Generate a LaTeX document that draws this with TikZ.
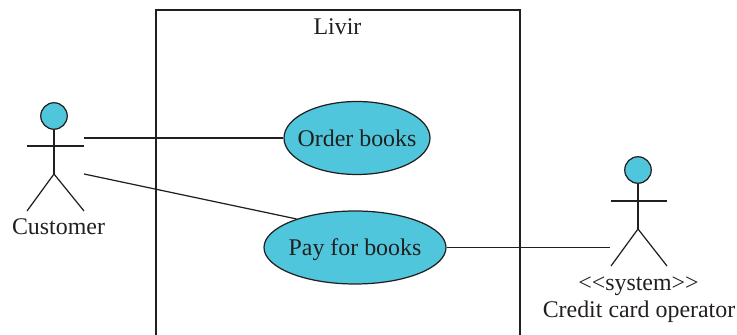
\documentclass[tikz,border=0pt]{standalone}
\usepackage{fontspec}
\setmainfont{Liberation Serif}
\usepackage{tikz}
\usetikzlibrary{shapes.geometric}
\definecolor{inkblack}{HTML}{231F20}
\definecolor{usecyan}{HTML}{4FC6DC}
\tikzset{
	every node/.style={text=inkblack, font=\fontsize{13.6}{16}\selectfont},
	usecase/.style={ellipse, draw=inkblack, line width=0.7pt, fill=usecyan, inner sep=0pt, text depth=0pt},
	head/.style={circle, draw=inkblack, line width=0.7pt, fill=usecyan, inner sep=0pt, minimum size=0.53cm},
	umlline/.style={draw=inkblack, line width=0.7pt},
}

\begin{document}
\begin{tikzpicture}
		\useasboundingbox (0,0) rectangle (14.74,6.7);
		\draw[umlline] (3.12,0) -- (3.12,6.5) -- (10.4,6.5) -- (10.4,0);
		\node (livir) at (6.75,6.16) {Livir};
		\node[usecase, minimum width=2.92cm, minimum height=1.46cm] (order) at (7.14,3.94) {\makebox[0pt]{Order books}};
		\node[usecase, minimum width=3.64cm, minimum height=1.46cm] (pay) at (7.1,1.75) {\makebox[0pt]{Pay for books}};
		\node[head] (headA) at (1.08,4.38) {};
		\coordinate (hipA) at (1.08,3.22);
		\coordinate (armAl) at (0.54,3.78);
		\coordinate (armAr) at (1.68,3.78);
		\coordinate (footAl) at (0.54,2.48);
		\coordinate (footAr) at (1.68,2.48);
		\coordinate (lineA) at (1.68,3.94);
		\coordinate (lineB) at (1.68,3.22);
		\draw[umlline] (headA) -- (hipA);
		\draw[umlline] (armAl) -- (armAr);
		\draw[umlline] (footAl) -- (hipA) -- (footAr);
		\node (customer) at (1.17,2.17) {Customer};
		\node[head] (headB) at (12.76,3.3) {};
		\coordinate (hipB) at (12.76,2.12);
		\coordinate (armBl) at (12.22,2.68);
		\coordinate (armBr) at (13.34,2.68);
		\coordinate (footBl) at (12.22,1.38);
		\coordinate (footBr) at (13.34,1.38);
		\coordinate (lineC) at (12.2,1.75);
		\draw[umlline] (headB) -- (hipB);
		\draw[umlline] (armBl) -- (armBr);
		\draw[umlline] (footBl) -- (hipB) -- (footBr);
		\node (system) at (12.77,0.98) {<{}<system>{}>};
		\node (operator) at (12.78,0.47) {Credit card operator};
		\draw[umlline] (lineA) -- (order);
		\draw[umlline] (lineB) -- (pay.154);
		\draw[umlline] (lineC) -- (pay);
	\end{tikzpicture}
\end{document}
